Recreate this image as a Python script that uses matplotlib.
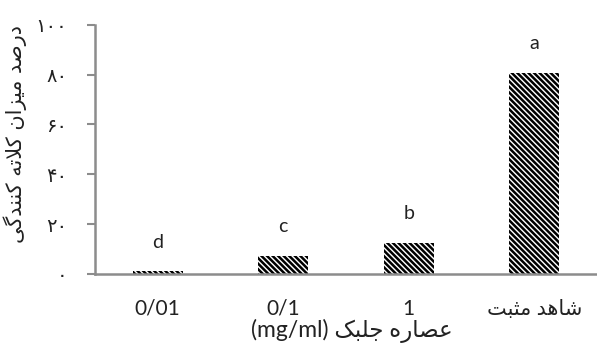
"""
Chelating activity of algae extract, bar chart.
"""
import matplotlib
matplotlib.use('Agg')
import matplotlib.pyplot as plt

categories = ['0/01', '0/1', '1', 'شاهد مثبت']
values = [1.0, 7.2, 12.5, 80.7]
letters = ['d', 'c', 'b', 'a']
yticks = [0, 20, 40, 60, 80, 100]
ytick_labels = ['۰', '۲۰', '۴۰', '۶۰', '۸۰', '۱۰۰']
ylabel = 'درصد میزان کلاته کنندگی'
xlabel_fa = 'عصاره جلبک'
xlabel_unit = '(mg/ml)'

# presentation forms: isolated, final, initial, medial
FORMS = {
    'ا': ('\uFE8D', '\uFE8E', None, None),
    'ب': ('\uFE8F', '\uFE90', '\uFE91', '\uFE92'),
    'ت': ('\uFE95', '\uFE96', '\uFE97', '\uFE98'),
    'ث': ('\uFE99', '\uFE9A', '\uFE9B', '\uFE9C'),
    'ج': ('\uFE9D', '\uFE9E', '\uFE9F', '\uFEA0'),
    'د': ('\uFEA9', '\uFEAA', None, None),
    'ر': ('\uFEAD', '\uFEAE', None, None),
    'ز': ('\uFEAF', '\uFEB0', None, None),
    'ش': ('\uFEB5', '\uFEB6', '\uFEB7', '\uFEB8'),
    'ص': ('\uFEB9', '\uFEBA', '\uFEBB', '\uFEBC'),
    'ع': ('\uFEC9', '\uFECA', '\uFECB', '\uFECC'),
    'ک': ('\uFB8E', '\uFB8F', '\uFB90', '\uFB91'),
    'گ': ('\uFB92', '\uFB93', '\uFB94', '\uFB95'),
    'ل': ('\uFEDD', '\uFEDE', '\uFEDF', '\uFEE0'),
    'م': ('\uFEE1', '\uFEE2', '\uFEE3', '\uFEE4'),
    'ن': ('\uFEE5', '\uFEE6', '\uFEE7', '\uFEE8'),
    'ه': ('\uFEE9', '\uFEEA', '\uFEEB', '\uFEEC'),
    'ی': ('\uFBFC', '\uFBFD', '\uFBFE', '\uFBFF'),
}


def shape(text):
    """Join Persian letters and return them in visual (left to right) order."""
    out = []
    chars = list(text)
    i = 0
    while i < len(chars):
        c = chars[i]
        if c not in FORMS:
            out.append(c)
            i += 1
            continue
        prev = chars[i - 1] if i > 0 else None
        joins_prev = prev in FORMS and FORMS[prev][2] is not None
        nxt = chars[i + 1] if i + 1 < len(chars) else None
        if c == 'ل' and nxt == 'ا':
            out.append('\uFEFC' if joins_prev else '\uFEFB')
            i += 2
            continue
        joins_next = FORMS[c][2] is not None and nxt in FORMS
        iso, fin, ini, med = FORMS[c]
        if joins_prev and joins_next:
            out.append(med)
        elif joins_prev:
            out.append(fin)
        elif joins_next:
            out.append(ini)
        else:
            out.append(iso)
        i += 1
    return ''.join(reversed(out))


def label(s):
    return shape(s) if any(ch in FORMS for ch in s) else s


plt.rcParams['font.family'] = ['Lato', 'DejaVu Sans']
plt.rcParams['hatch.linewidth'] = 1.8

fig = plt.figure(figsize=(5.97, 3.45), dpi=100)
ax = fig.add_axes([0.159, 0.206, 0.841, 0.722])

x = range(len(categories))
bars = ax.bar(x, values, width=0.4, color='white', edgecolor='black',
              linewidth=0, hatch='\\\\\\\\\\\\')

for xi, v, l in zip(x, values, letters):
    ax.annotate(l, (xi, v), xytext=(0, 21), textcoords='offset points',
                ha='center', va='center', fontsize=14, color='#222222')

ax.set_xlim(-0.5, 3.5)
ax.set_ylim(0, 100)
ax.set_xticks(list(x))
ax.set_xticklabels([label(c) for c in categories], fontsize=15, color='#222222')
ax.tick_params(axis='x', length=0, pad=18)
ax.set_yticks(yticks)
ax.set_yticklabels(ytick_labels, family='DejaVu Sans', fontsize=14, color='#222222')
ax.tick_params(axis='y', length=6, width=1.5, color='#8c8c8c', pad=14, direction='out')

for side in ['top', 'right']:
    ax.spines[side].set_visible(False)
for side in ['left', 'bottom']:
    ax.spines[side].set_color('#8c8c8c')
    ax.spines[side].set_linewidth(1.8)

ax.set_ylabel(label(ylabel), family='DejaVu Sans', fontsize=15, color='#222222')
ax.yaxis.set_label_coords(-0.135, 0.56)

fig.text(0.59, 0.04, xlabel_unit + ' ' + label(xlabel_fa), ha='center', va='center',
         fontsize=16.5, color='#222222')

fig.savefig('out.png', dpi=100)
